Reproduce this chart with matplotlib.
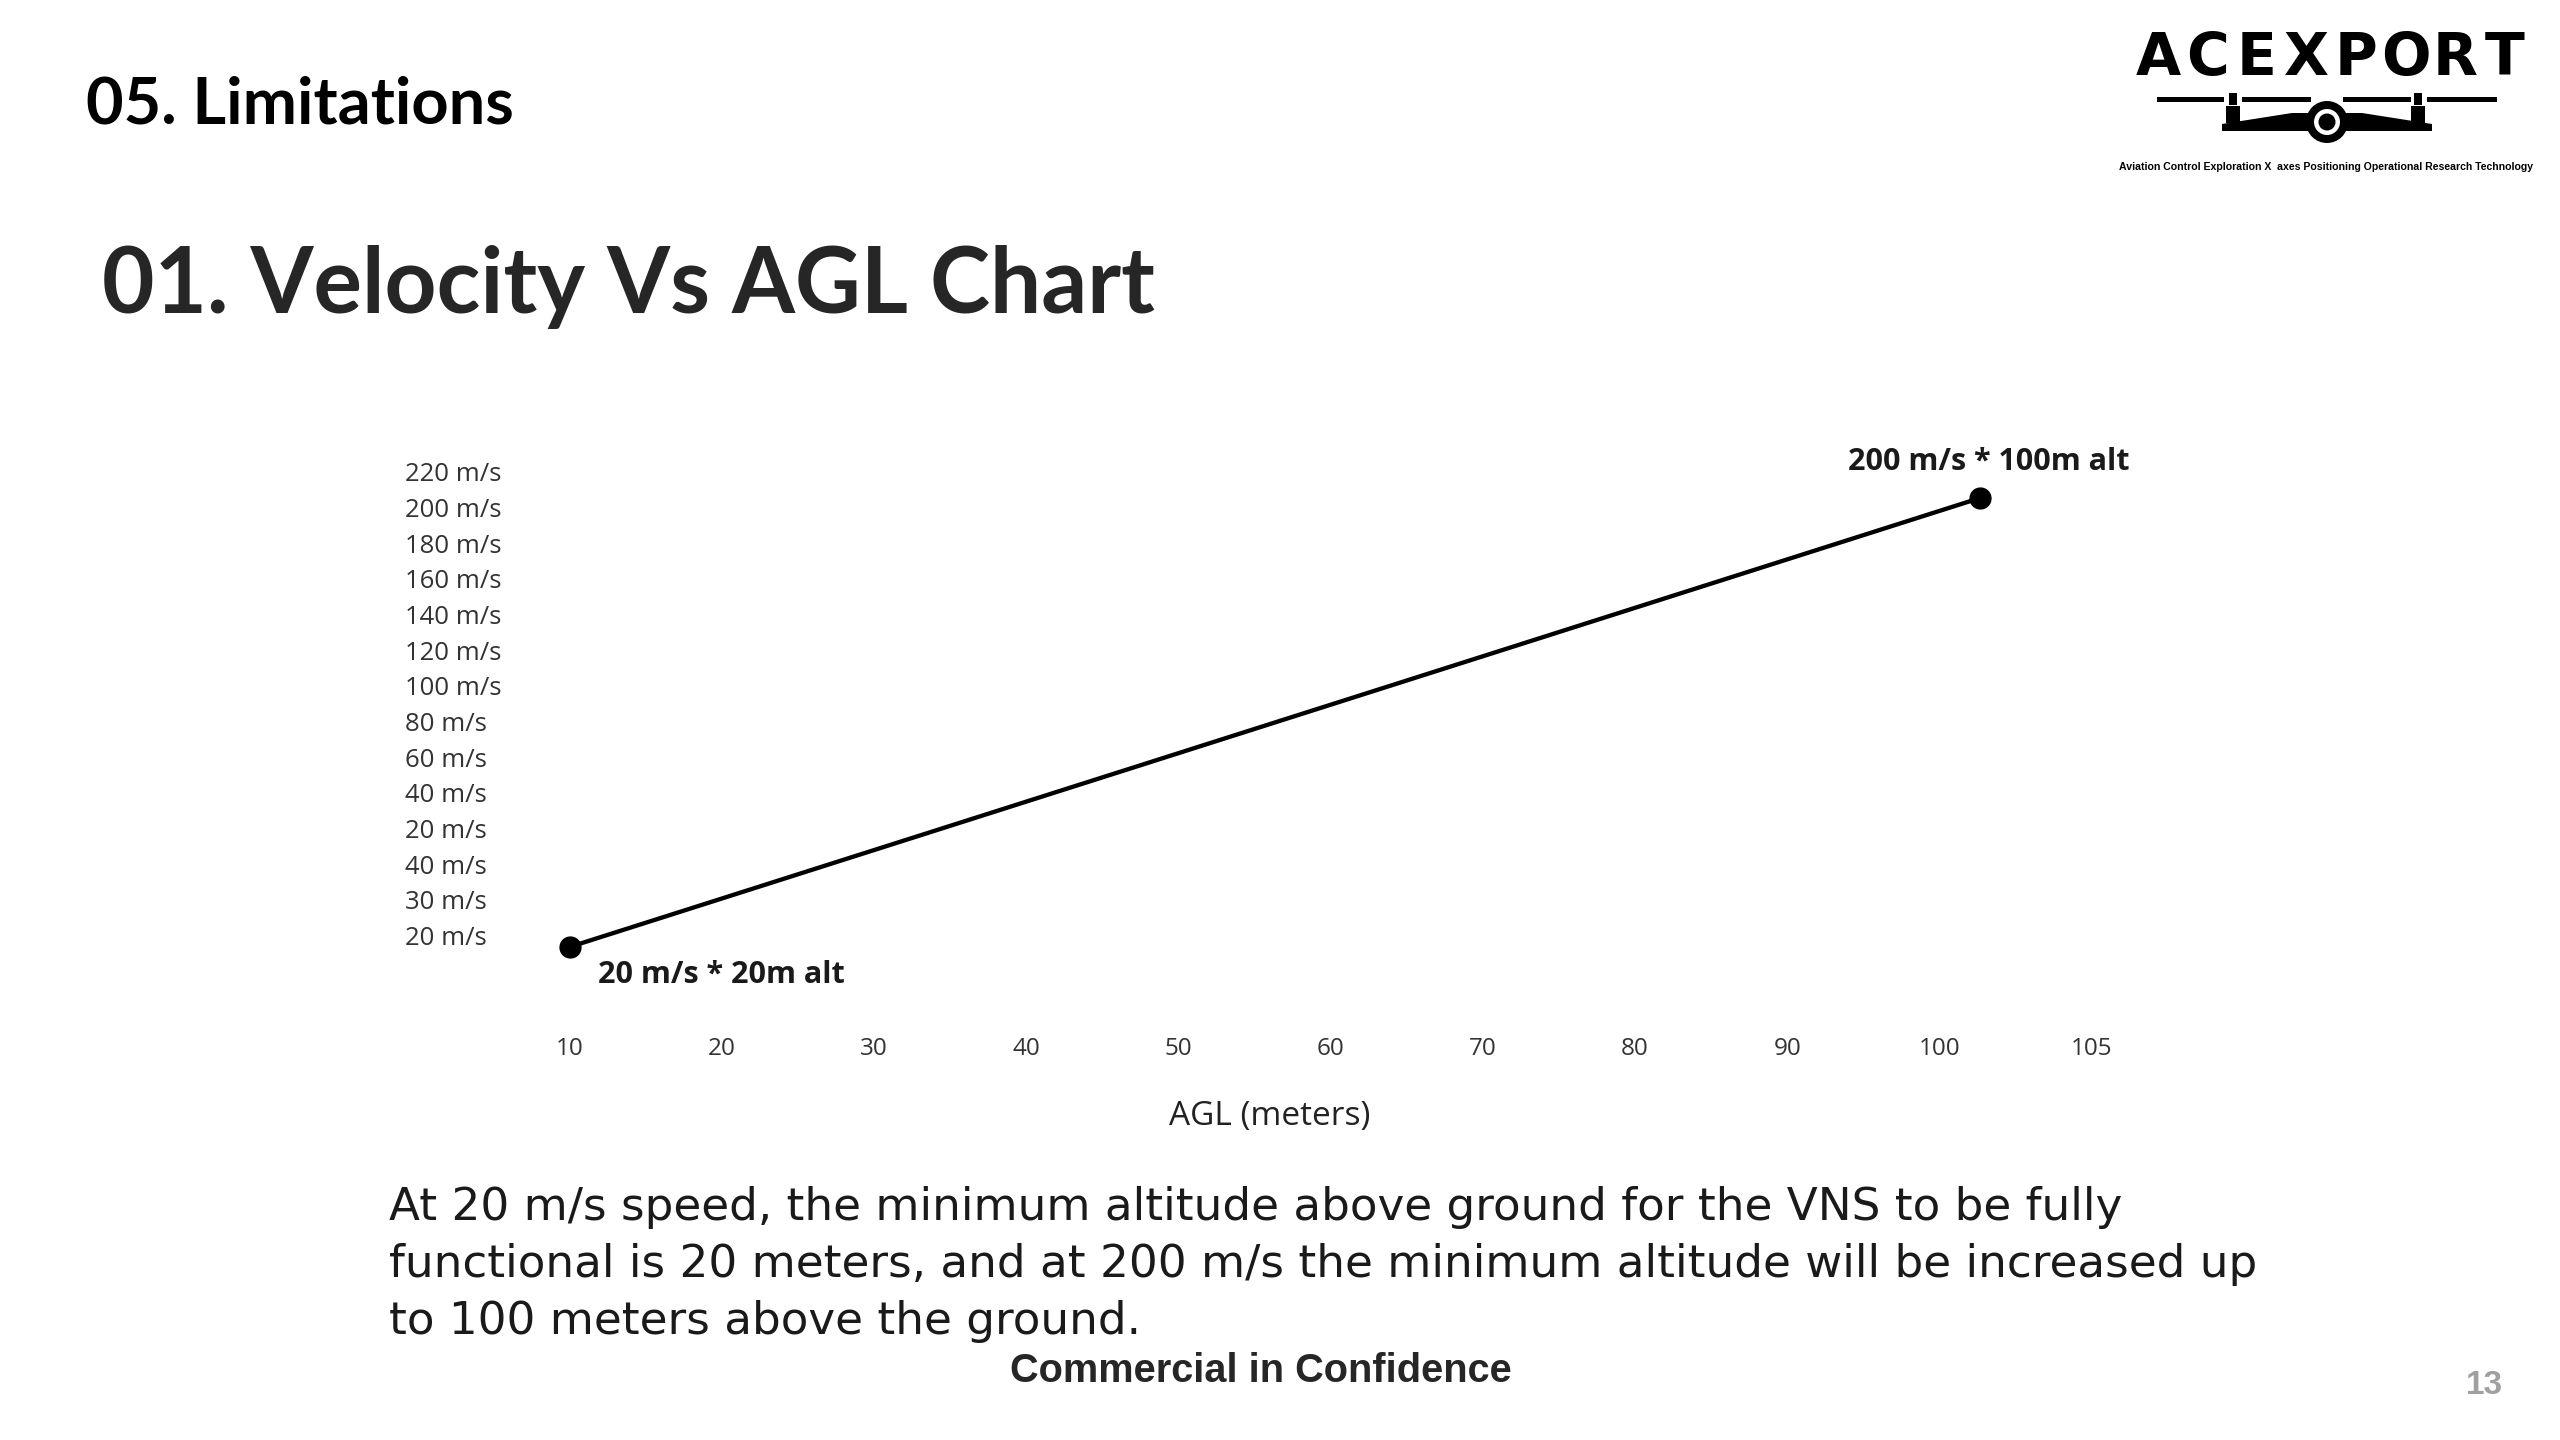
import matplotlib
matplotlib.use("Agg")
import matplotlib.pyplot as plt
from matplotlib.patches import Circle, Polygon, Rectangle

# chart data
agl_labels = ['10', '20', '30', '40', '50', '60', '70', '80', '90', '100', '105']
speed_labels = ['20 m/s', '30 m/s', '40 m/s', '20 m/s', '40 m/s', '60 m/s', '80 m/s',
                '100 m/s', '120 m/s', '140 m/s', '160 m/s', '180 m/s', '200 m/s', '220 m/s']
# line end points, in tick-slot units of the two axes
line_x = [0.0, 9.27]
line_y = [-0.32, 12.27]
point_labels = ['20 m/s * 20m alt', '200 m/s * 100m alt']

section_title = "05. Limitations"
chart_title = "01. Velocity Vs AGL Chart"
xlabel = "AGL (meters)"
body_lines = ["At 20 m/s speed, the minimum altitude above ground for the VNS to be fully",
              "functional is 20 meters, and at 200 m/s the minimum altitude will be increased up",
              "to 100 meters above the ground."]
footer = "Commercial in Confidence"
page_no = "13"
logo_word = "ACEXPORT"
logo_tag = "Aviation Control Exploration X  axes Positioning Operational Research Technology"

W, H = 2560, 1440
fig = plt.figure(figsize=(25.6, 14.4), dpi=100)

# slide canvas in pixel coordinates (y down)
bg = fig.add_axes([0, 0, 1, 1], zorder=0)
bg.set_xlim(0, W)
bg.set_ylim(H, 0)
bg.axis('off')

bg.text(86, 124, section_title, family='Lato', weight='bold', fontsize=46.8,
        color='black', va='baseline', ha='left')
bg.text(102, 313, chart_title, family='Lato', weight='bold', fontsize=65.3,
        color='#262626', va='baseline', ha='left')

for i, line in enumerate(body_lines):
    bg.text(389, 1220 + i * 57, line, family='DejaVu Sans', fontsize=32.6,
            color='#1a1a1a', va='baseline', ha='left')

bg.text(1261, 1382, footer, family='Liberation Sans', weight='bold', fontsize=28.6,
        color='#262626', va='baseline', ha='center')
bg.text(2484, 1394, page_no, family='Liberation Sans', weight='bold', fontsize=24,
        color='#a0a0a0', va='baseline', ha='center')

# logo
for i, ch in enumerate(logo_word):
    bg.text(2158 + i * 49.5, 75, ch, family='DejaVu Sans', weight='bold', fontsize=42,
            color='black', va='baseline', ha='center')
for x0, x1 in [(2157, 2224), (2242, 2311), (2343, 2411), (2427, 2497)]:
    bg.add_patch(Rectangle((x0, 97), x1 - x0, 5, color='black', lw=0))
for cx in [2233, 2418]:
    bg.add_patch(Rectangle((cx - 4, 93), 8, 12, color='black', lw=0))
    bg.add_patch(Rectangle((cx - 7, 106), 14, 17, color='black', lw=0))
bg.add_patch(Polygon([(2222, 124), (2292, 113), (2362, 113), (2432, 124),
                      (2432, 131), (2222, 131)], closed=True, color='black', lw=0))
bg.add_patch(Circle((2327, 122), 21, color='black', lw=0))
bg.add_patch(Circle((2327, 122), 13, color='white', lw=0))
bg.add_patch(Circle((2327, 122), 8.5, color='black', lw=0))
bg.text(2326, 170, logo_tag, family='Liberation Sans', weight='bold', fontsize=7.6,
        color='black', va='baseline', ha='center')

# the chart itself
ax = fig.add_axes([0.1929, 0.3256, 0.6538, 0.3591], zorder=1)
ax.set_facecolor('none')
ax.plot(line_x, line_y, color='black', lw=3.1, marker='o', markersize=15,
        solid_capstyle='round')
ax.set_xlim(-0.5, 10.5)
ax.set_ylim(-1, 13.5)

ax.set_xticks(range(len(agl_labels)))
ax.set_xticklabels(agl_labels, family='Open Sans', fontsize=17.5, color='#333333')
ax.set_yticks(range(len(speed_labels)))
ax.set_yticklabels(speed_labels, family='Open Sans', fontsize=18.5, color='#333333', ha='left')
ax.tick_params(axis='x', length=0, pad=56)
ax.tick_params(axis='y', length=0, pad=64)
plt.setp(ax.get_xticklabels(), va='center')
for s in ax.spines.values():
    s.set_visible(False)

ax.set_xlabel(xlabel, family='Open Sans', fontsize=24, color='#222222')
ax.xaxis.set_label_coords(0.4638, -0.250)

ax.annotate(point_labels[0], xy=(line_x[0], line_y[0]), xytext=(20, -20.5),
            textcoords='offset points', ha='left', va='center',
            family='Open Sans', weight='bold', fontsize=22, color='#1a1a1a')
ax.annotate(point_labels[1], xy=(line_x[1], line_y[1]), xytext=(6, 25.5),
            textcoords='offset points', ha='center', va='center',
            family='Open Sans', weight='bold', fontsize=22, color='#1a1a1a')

fig.savefig("out.png", dpi=100)
